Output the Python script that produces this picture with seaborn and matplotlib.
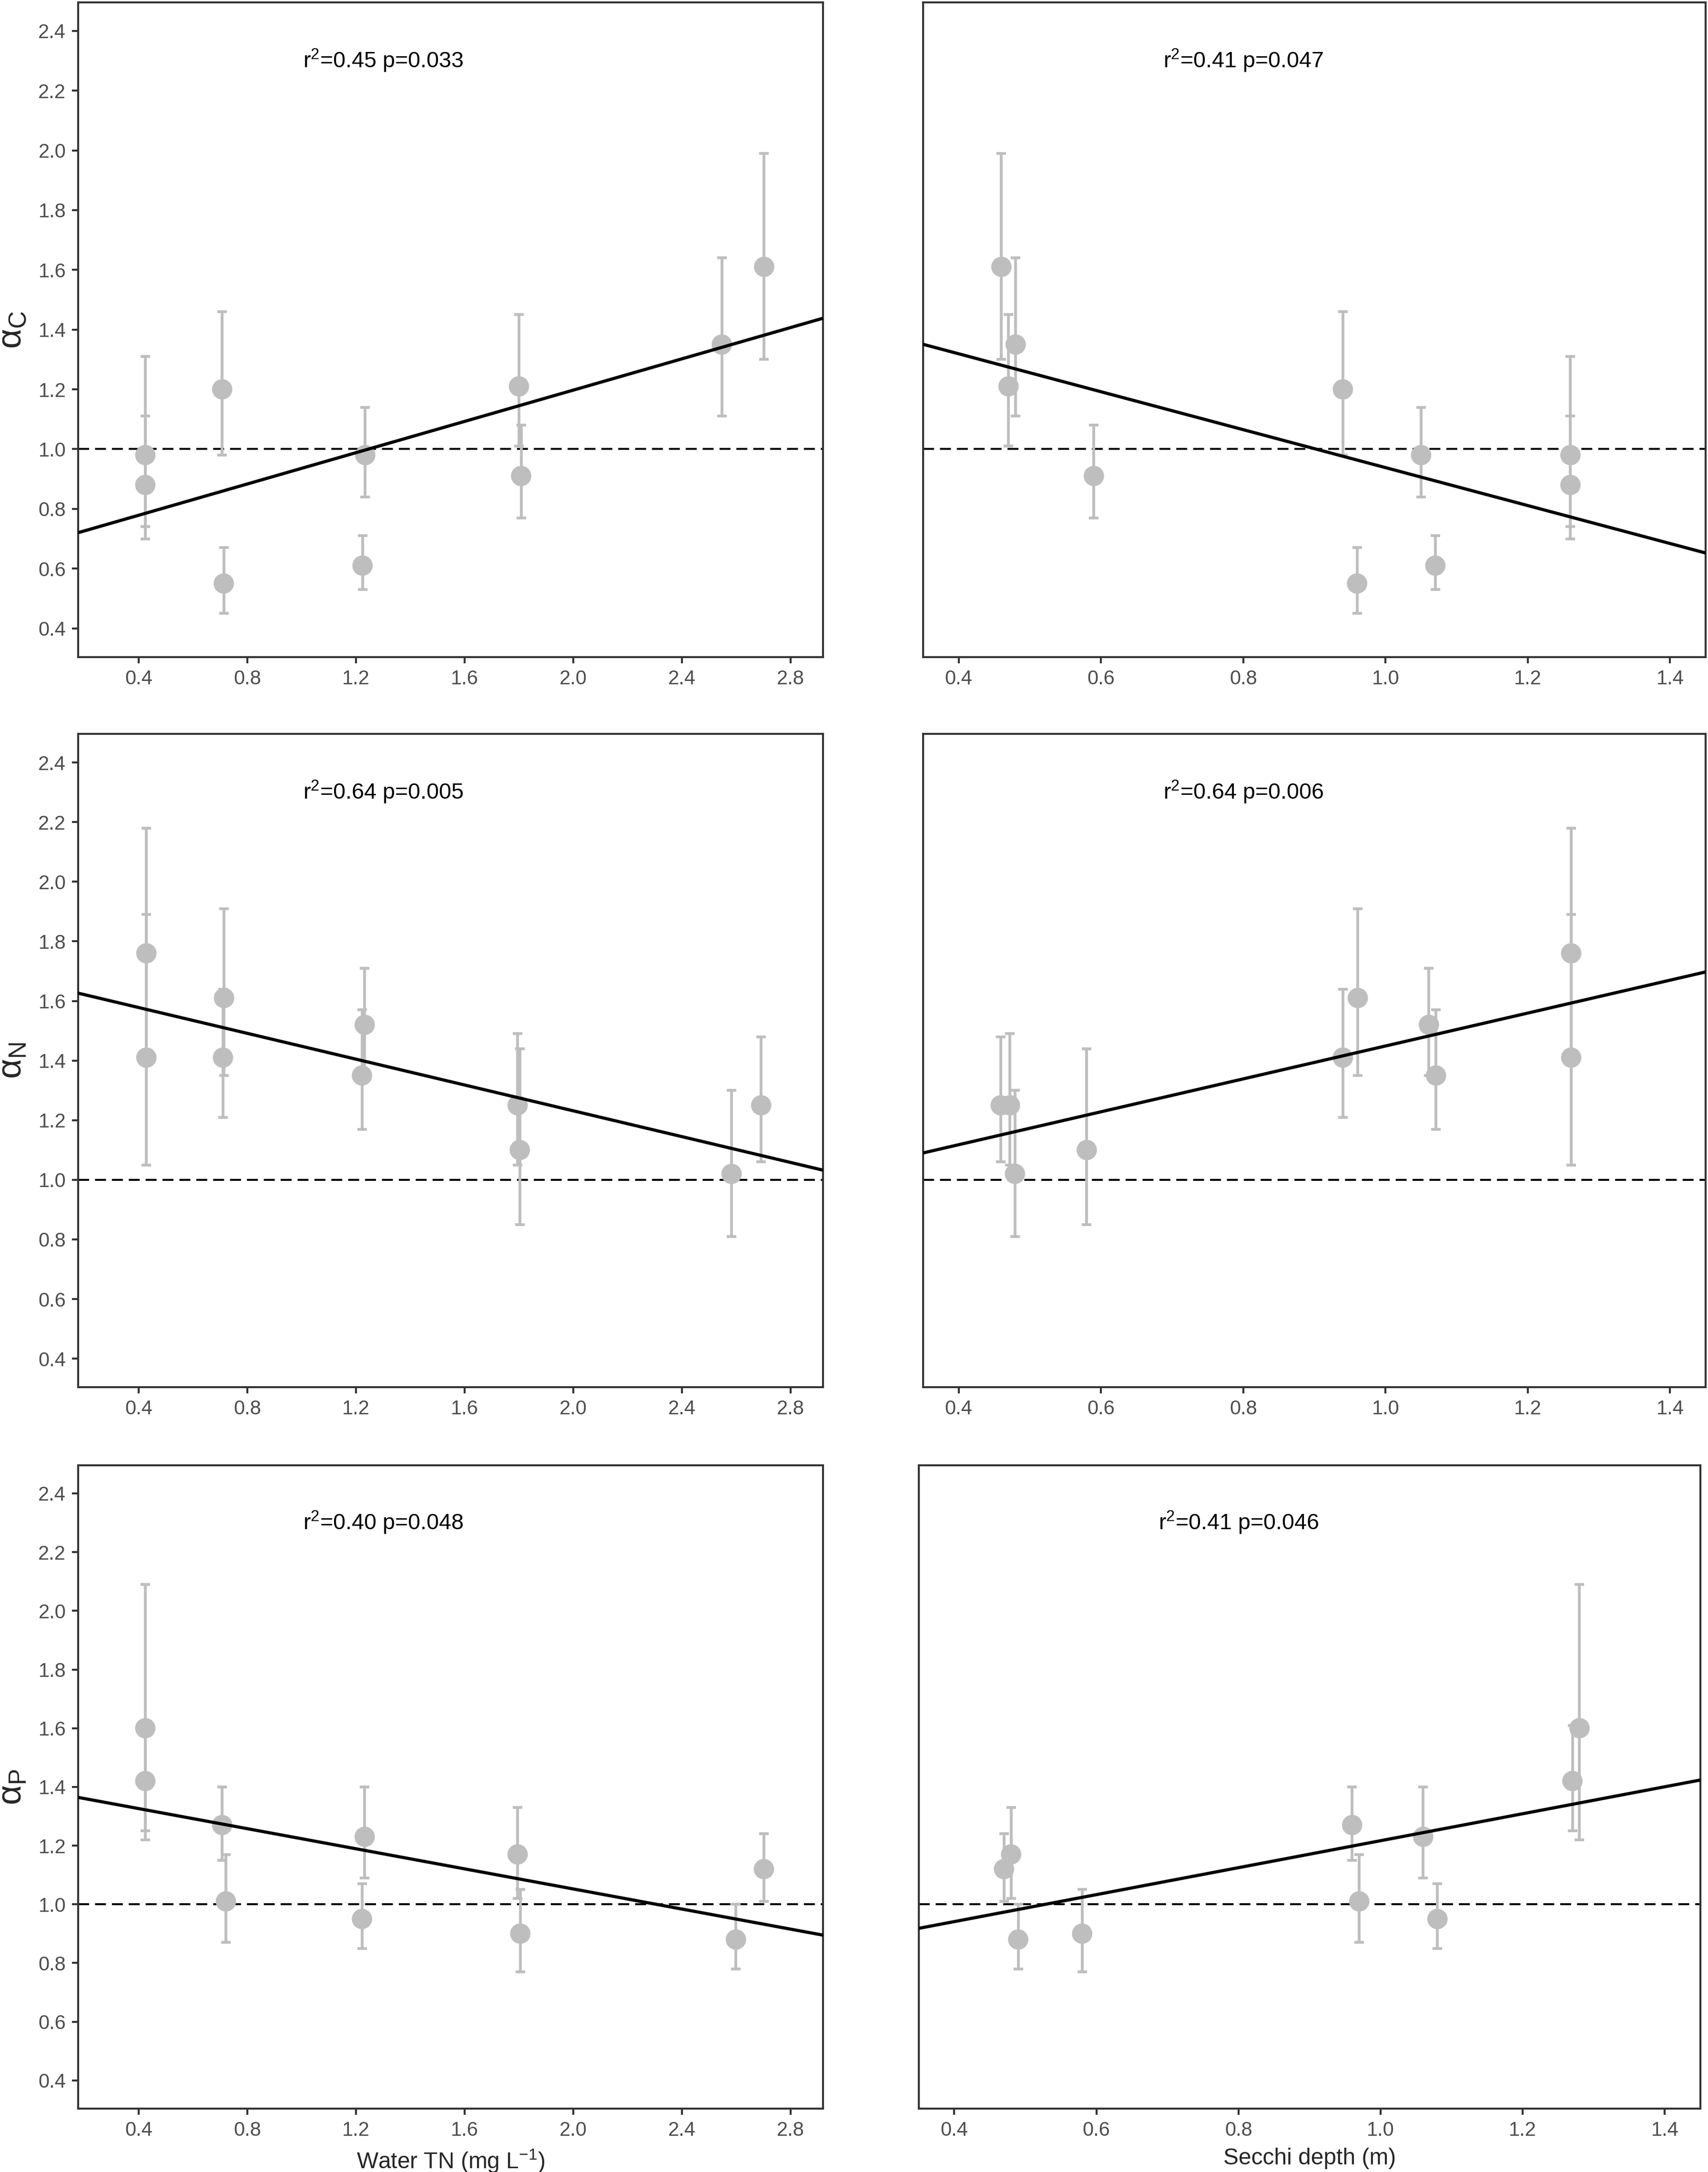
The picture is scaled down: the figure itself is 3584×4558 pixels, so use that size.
import numpy as np
import pandas as pd
import matplotlib
matplotlib.use("Agg")
import matplotlib.pyplot as plt
from matplotlib.ticker import FormatStrFormatter
import seaborn as sns

# Dados (10 lagos)
# alpha C
aC = [0.98, 0.88, 1.20, 0.55, 0.98, 0.61, 1.21, 0.91, 1.35, 1.61]
aC_lo = [0.74, 0.70, 0.98, 0.45, 0.84, 0.53, 1.01, 0.77, 1.11, 1.30]
aC_hi = [1.31, 1.11, 1.46, 0.67, 1.14, 0.71, 1.45, 1.08, 1.64, 1.99]
tn_C = [0.424, 0.424, 0.707, 0.713, 1.234, 1.224, 1.800, 1.808, 2.547, 2.703]
secchi_C = [1.26, 1.26, 0.94, 0.96, 1.05, 1.07, 0.47, 0.59, 0.48, 0.46]

# alpha N
aN = [1.76, 1.41, 1.61, 1.41, 1.52, 1.35, 1.25, 1.10, 1.02, 1.25]
aN_lo = [1.40, 1.05, 1.35, 1.21, 1.35, 1.17, 1.05, 0.85, 0.81, 1.06]
aN_hi = [2.18, 1.89, 1.91, 1.64, 1.71, 1.57, 1.49, 1.44, 1.30, 1.48]
tn_N = [0.428, 0.428, 0.714, 0.710, 1.232, 1.222, 1.795, 1.803, 2.583, 2.692]
secchi_N = [1.261, 1.261, 0.961, 0.940, 1.061, 1.071, 0.472, 0.580, 0.479, 0.459]

# alpha P
aP = [1.60, 1.42, 1.27, 1.01, 1.23, 0.95, 1.17, 0.90, 0.88, 1.12]
aP_lo = [1.22, 1.25, 1.15, 0.87, 1.09, 0.85, 1.02, 0.77, 0.78, 1.01]
aP_hi = [2.09, 1.61, 1.40, 1.17, 1.40, 1.07, 1.33, 1.05, 1.00, 1.24]
tn_P = [0.424, 0.424, 0.707, 0.721, 1.232, 1.222, 1.795, 1.805, 2.599, 2.702]
secchi_P = [1.28, 1.27, 0.96, 0.97, 1.06, 1.08, 0.48, 0.58, 0.49, 0.47]

# Retas de regressao (inclinacao, intercepto)
fit_tn_slope = [0.2617, -0.2165, -0.1711]
fit_tn_icpt = [0.674, 1.6645, 1.3945]
fit_sd_slope = [-0.635, 0.552, 0.4594]
fit_sd_icpt = [1.573, 0.897, 0.7573]

stats_tn = ["r$^{\\mathrm{2}}$=0.45 p=0.033", "r$^{\\mathrm{2}}$=0.64 p=0.005", "r$^{\\mathrm{2}}$=0.40 p=0.048"]
stats_sd = ["r$^{\\mathrm{2}}$=0.41 p=0.047", "r$^{\\mathrm{2}}$=0.64 p=0.006", "r$^{\\mathrm{2}}$=0.41 p=0.046"]
ylabels = ["α$_{\\mathrm{C}}$", "α$_{\\mathrm{N}}$", "α$_{\\mathrm{P}}$"]

# Configuracoes
sns.set_theme(style="ticks")
plt.rcParams['font.family'] = ['Liberation Sans', 'DejaVu Sans']
plt.rcParams['mathtext.fontset'] = 'custom'
plt.rcParams['mathtext.rm'] = 'Liberation Sans'
plt.rcParams['mathtext.it'] = 'Liberation Sans:italic'
plt.rcParams['mathtext.bf'] = 'Liberation Sans:bold'
plt.rcParams['lines.scale_dashes'] = False

GREY = '#BEBEBE'
DARK = '#333333'

fig = plt.figure(figsize=(3584 / 300, 4558 / 300), dpi=300)

rows = [(0.6975, 0.3015), (0.3613, 0.3008), (0.0292, 0.2962)]
col1 = (0.0458, 0.4361)
col2 = [(0.5405, 0.4581), (0.5405, 0.4581), (0.5379, 0.4576)]


def draw_panel(ax, x, y, lo, hi, slope, icpt, stat, xlim, xticks, text_x):
    df = pd.DataFrame({'x': x, 'y': y, 'lo': lo, 'hi': hi})
    ax.axhline(1.0, color='black', lw=1.0, dashes=(5.5, 3.0), zorder=1)
    ax.errorbar(df['x'], df['y'], yerr=[df['y'] - df['lo'], df['hi'] - df['y']],
                fmt='none', ecolor=GREY, elinewidth=1.4, capsize=2.3, capthick=1.4, zorder=2)
    sns.scatterplot(data=df, x='x', y='y', ax=ax, color=GREY, s=105,
                    edgecolor='none', linewidth=0, zorder=3)
    ax.axline((0, icpt), slope=slope, color='black', lw=1.6, zorder=4)
    ax.text(text_x, 2.3, stat, ha='center', va='center', fontsize=11.2, color='black')
    ax.set_xlim(xlim)
    ax.set_ylim(0.304, 2.496)
    ax.set_xticks(xticks)
    ax.set_yticks(np.arange(0.4, 2.41, 0.2))
    ax.xaxis.set_major_formatter(FormatStrFormatter('%.1f'))
    ax.yaxis.set_major_formatter(FormatStrFormatter('%.1f'))
    ax.set_xlabel('')
    ax.set_ylabel('')
    for s in ax.spines.values():
        s.set_visible(True)
        s.set_color(DARK)
        s.set_linewidth(1.0)
    ax.tick_params(axis='both', length=3.2, width=1.0, color=DARK,
                   labelsize=10, labelcolor='#4D4D4D', pad=3.0)
    ax.grid(False)


data_rows = [
    (tn_C, secchi_C, aC, aC_lo, aC_hi),
    (tn_N, secchi_N, aN, aN_lo, aN_hi),
    (tn_P, secchi_P, aP, aP_lo, aP_hi),
]

for i, (tn, sd, a, lo, hi) in enumerate(data_rows):
    b, h = rows[i]
    ax1 = fig.add_axes([col1[0], b, col1[1], h])
    draw_panel(ax1, tn, a, lo, hi, fit_tn_slope[i], fit_tn_icpt[i], stats_tn[i],
               (0.177, 2.92), np.arange(0.4, 2.81, 0.4), 1.3)
    ax1.set_ylabel(ylabels[i], fontsize=17.5, labelpad=5)

    l2, w2 = col2[i]
    ax2 = fig.add_axes([l2, b, w2, h])
    draw_panel(ax2, sd, a, lo, hi, fit_sd_slope[i], fit_sd_icpt[i], stats_sd[i],
               (0.35, 1.45), np.arange(0.4, 1.41, 0.2), 0.8)
    ax2.tick_params(axis='y', left=False, labelleft=False)

    if i == 2:
        ax1.set_xlabel('Water TN (mg L$^{-1}$)', fontsize=11.5, labelpad=4)
        ax2.set_xlabel('Secchi depth (m)', fontsize=11.5, labelpad=4)

fig.savefig("out.png", dpi=300, facecolor='white')
plt.close(fig)
